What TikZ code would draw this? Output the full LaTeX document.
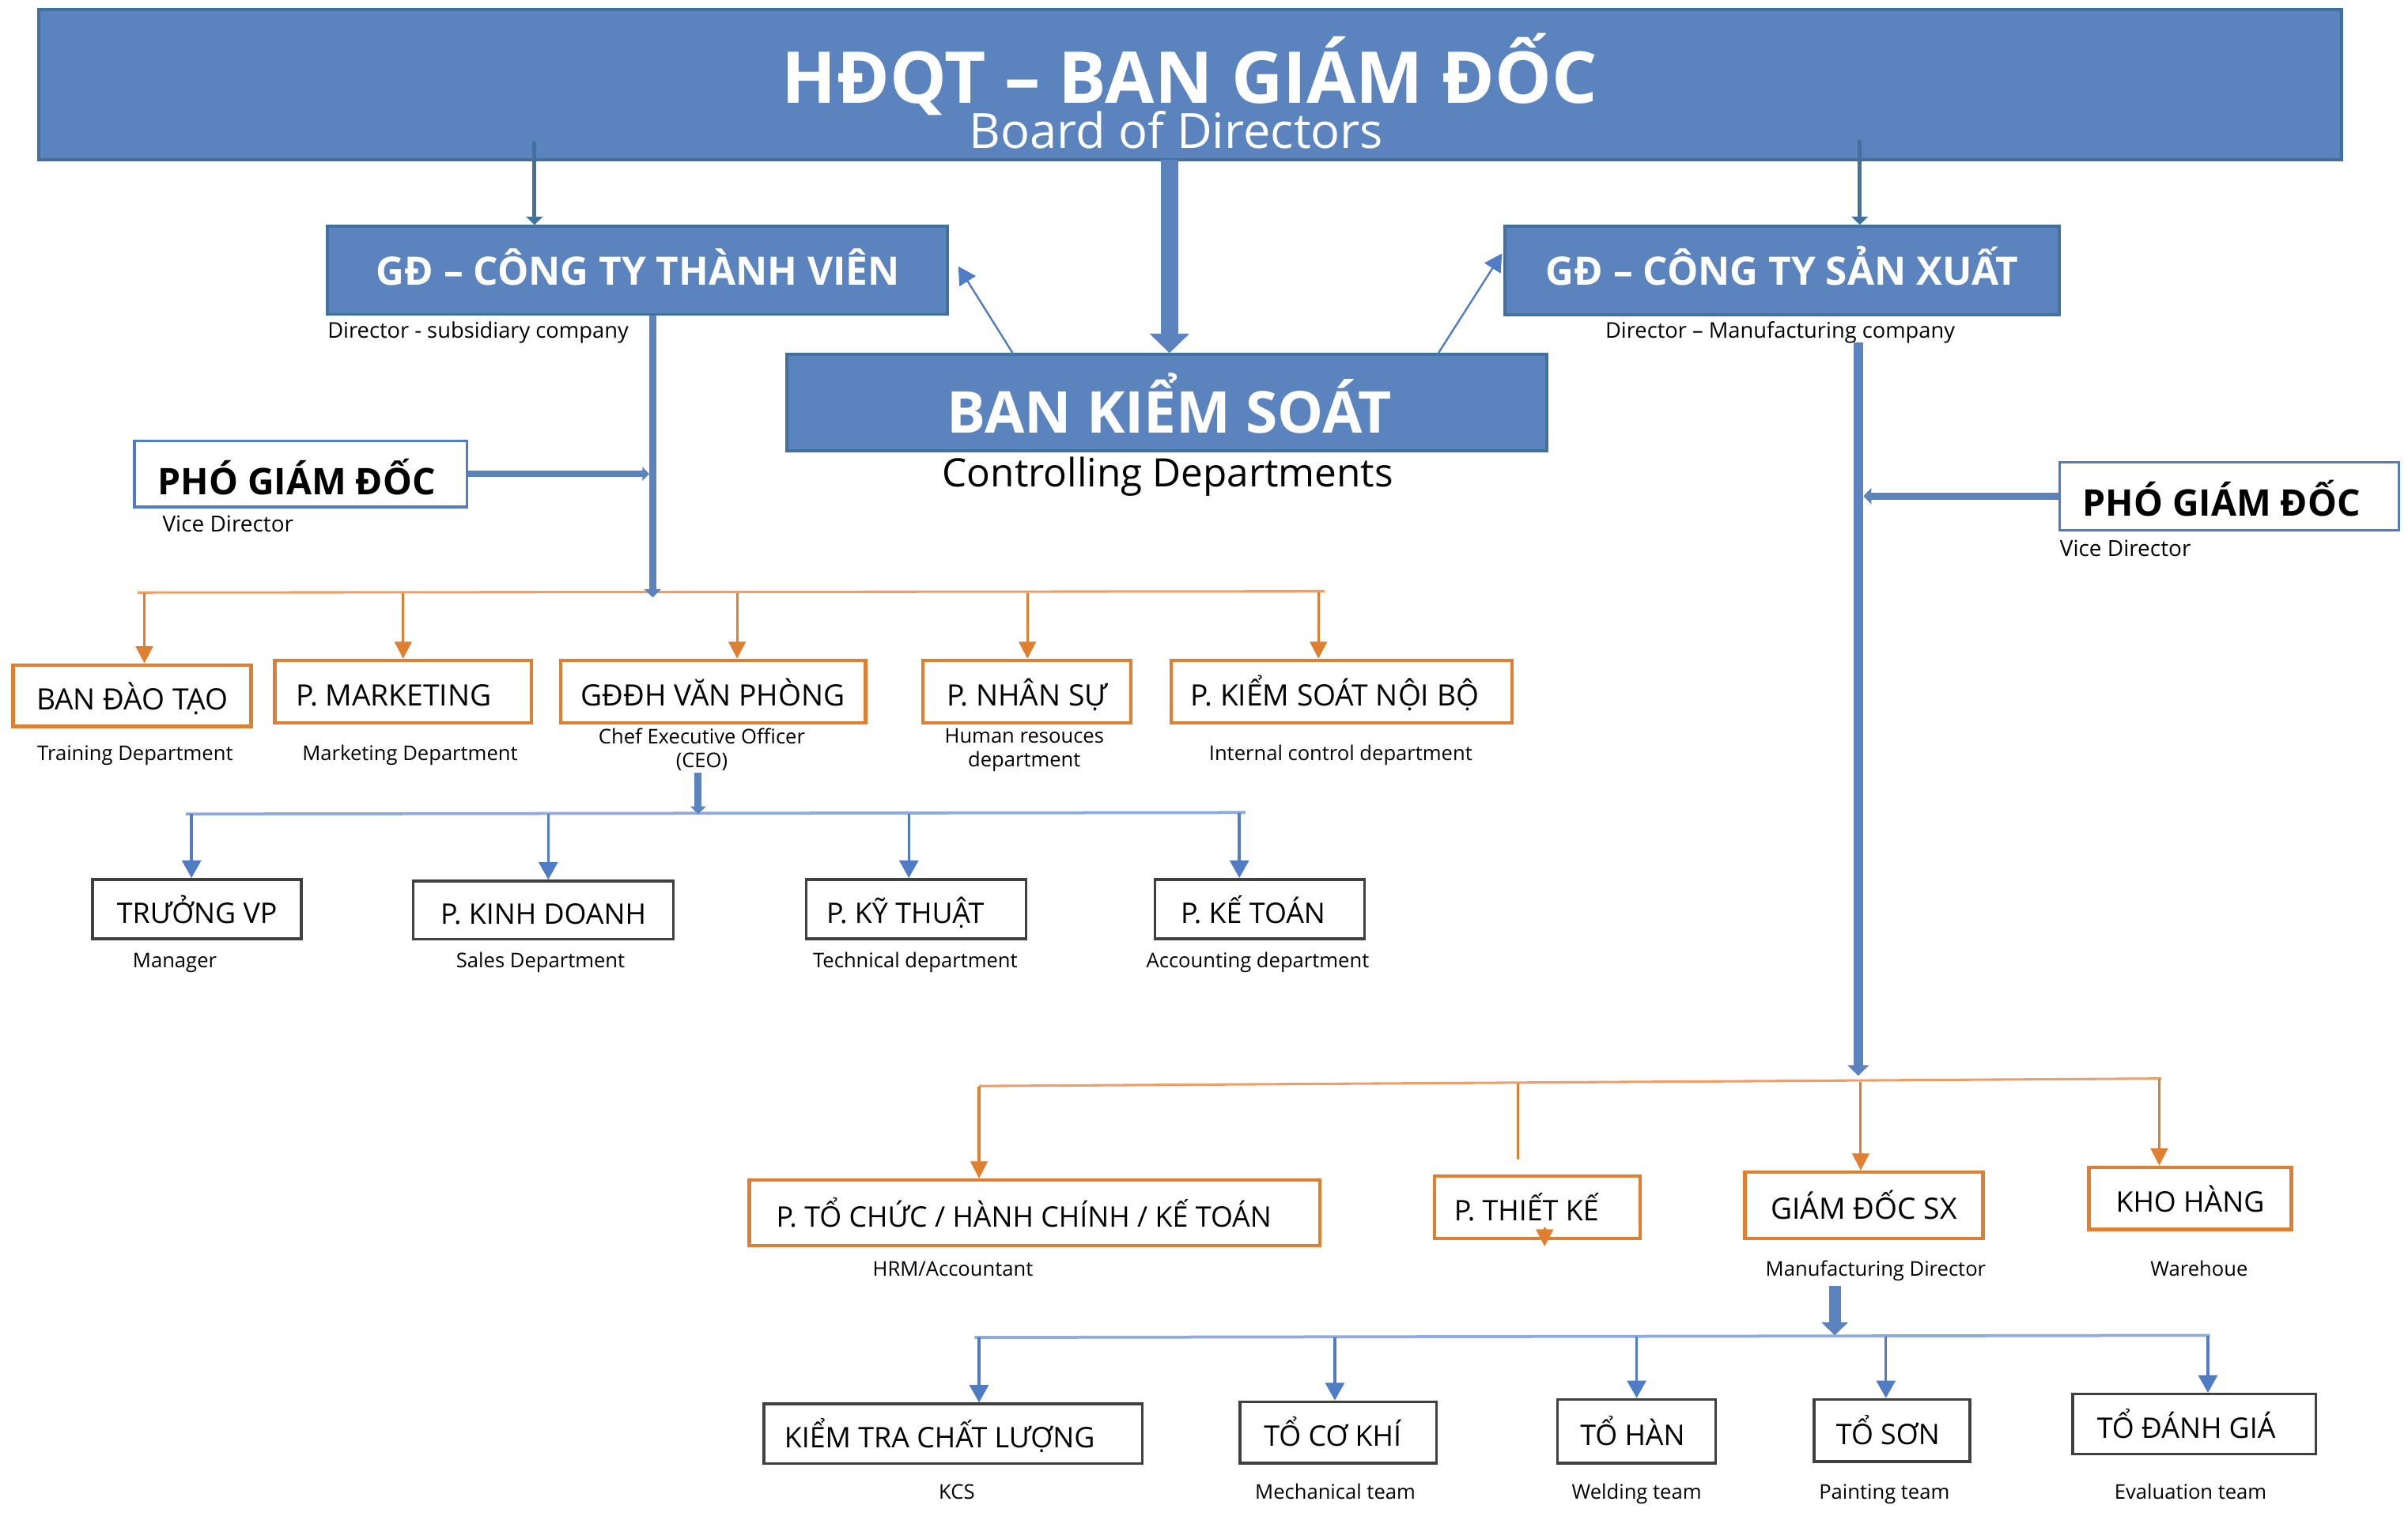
\documentclass[tikz,border=0pt]{standalone}
\usepackage{fontspec}
\setmainfont{Open Sans}
\usetikzlibrary{arrows.meta}

\definecolor{bfill}{RGB}{91,132,190}
\definecolor{bline}{RGB}{65,113,156}
\definecolor{barrow}{RGB}{79,124,196}
\definecolor{bbus}{RGB}{143,170,220}
\definecolor{orng}{RGB}{222,127,50}
\definecolor{obus}{RGB}{236,160,105}
\definecolor{gline}{RGB}{64,64,64}

\begin{document}
\begin{tikzpicture}[x=0.02cm, y=-0.02cm,
    bluebox/.style={draw=bline, line width=1.1pt, fill=bfill, inner sep=0pt},
    wtitle/.style={text=white, anchor=base, inner sep=0pt},
    pgdbox/.style={draw=barrow, line width=1pt, fill=white, inner sep=0pt},
    obox/.style={draw=orng, line width=1.3pt, fill=white, inner sep=0pt,
      font=\fontsize{10.5}{12}\selectfont, text height=10.3pt, text depth=0pt},
    obox1/.style={obox, font=\fontsize{10.9}{12}\selectfont, text height=10.6pt},
    kbox/.style={draw=gline, line width=1pt, fill=white, inner sep=0pt,
      font=\fontsize{10.5}{12}\selectfont, text height=10.3pt, text depth=0pt},
    capt/.style={anchor=base, inner sep=0pt, font=\fontsize{7.5}{9}\selectfont},
    capt2/.style={anchor=north, align=center, inner sep=0pt, font=\fontsize{7.5}{8.8}\selectfont},
    obus/.style={draw=obus, line width=0.9pt},
    bbus/.style={draw=bbus, line width=1.1pt},
    oline/.style={draw=orng, line width=0.9pt},
    oarrow/.style={draw=orng, fill=orng, line width=0.9pt, -{Triangle[width=6.3pt,length=6.3pt]}},
    barr/.style={draw=barrow, fill=barrow, line width=1pt, -{Triangle[width=7pt,length=6.5pt]}},
    darr/.style={draw=bline, fill=bline, line width=1.4pt, -{Triangle[width=6pt,length=3pt]}},
    fat/.style={draw=bfill, fill=bfill, line width=#1, -{Triangle[length=0pt 1.1,width=0pt 2.2]}}]

    \useasboundingbox (0,0) rectangle (1568,994.4);

    % 上段
    \node[bluebox, minimum width=30cm, minimum height=1.964cm] (hdqt) at (775,55.1) {};
    \node[wtitle, align=center, font={\fontsize{18}{16.6}\selectfont\lineskiplimit=-100pt}]
      (hdqtT) at (766,96.3) {{\fontsize{26.5}{30}\selectfont\bfseries\kern10pt HĐQT – BAN GIÁM ĐỐC}\\Board of Directors};

    \node[bluebox, minimum width=8.08cm, minimum height=1.146cm] (gdtv) at (415,176) {};
    \node[wtitle, font=\fontsize{14.5}{17}\selectfont\bfseries] (gdtvT) at (415.5,185.4) {GĐ – CÔNG TY THÀNH VIÊN};
    \node[capt, anchor=base west, font=\fontsize{8}{10}\selectfont] (gdtvC) at (213,220) {Director - subsidiary company};

    \node[bluebox, minimum width=7.22cm, minimum height=1.156cm] (gdsx) at (1160.5,176.2) {};
    \node[wtitle, font=\fontsize{14.5}{17}\selectfont\bfseries] (gdsxT) at (1160.5,185.5) {GĐ – CÔNG TY SẢN XUẤT};
    \node[capt, anchor=base west, font=\fontsize{8}{10}\selectfont] (gdsxC) at (1045,220) {Director – Manufacturing company};

    \node[bluebox, minimum width=9.9cm, minimum height=1.256cm] (bks) at (759.9,262.2) {};
    \node[wtitle, font=\fontsize{21.4}{25}\selectfont\bfseries] (bksT) at (761.5,282) {BAN KIỂM SOÁT};
    \node[capt, font=\fontsize{14.5}{17}\selectfont] (bksC) at (760.5,317) {Controlling Departments};

    \node[pgdbox, minimum width=4.33cm, minimum height=0.86cm] (pgdL) at (195.7,308.5) {};
    \node[anchor=base, inner sep=0pt, font=\fontsize{13.6}{15}\selectfont\bfseries] (pgdLT) at (193.2,322) {PHÓ GIÁM ĐỐC};
    \node[capt, anchor=base west, font=\fontsize{8.2}{10}\selectfont] (pgdLC) at (105.5,346.4) {Vice Director};

    \node[pgdbox, minimum width=4.42cm, minimum height=0.886cm] (pgdR) at (1451.5,323) {};
    \node[anchor=base, inner sep=0pt, font=\fontsize{13.6}{15}\selectfont\bfseries] (pgdRT) at (1446.5,336) {PHÓ GIÁM ĐỐC};
    \node[capt, anchor=base west, font=\fontsize{8.2}{10}\selectfont] (pgdRC) at (1341,362) {Vice Director};

    % 左側の部署
    \node[obox1, minimum width=3.10cm, minimum height=0.80cm] (daotao) at (86,453) {BAN ĐÀO TẠO};
    \node[obox1, minimum width=3.34cm, minimum height=0.812cm] (mkt) at (262.5,450.3) {P. MARKETING\kern7pt};
    \node[obox1, minimum width=3.97cm, minimum height=0.812cm] (vanphong) at (464.3,450.3) {GĐĐH VĂN PHÒNG};
    \node[obox1, minimum width=2.71cm, minimum height=0.812cm] (nhansu) at (668.7,450.3) {P. NHÂN SỰ};
    \node[obox1, minimum width=4.44cm, minimum height=0.812cm] (ksnb) at (873.6,450.3) {P. KIỂM SOÁT NỘI BỘ\kern5pt};

    \node[capt] (daotaoC) at (88,495) {Training Department};
    \node[capt] (mktC) at (267,495) {Marketing Department};
    \node[capt2] (vanphongC) at (457,474) {Chef Executive Officer\\(CEO)};
    \node[capt2] (nhansuC) at (667,474) {Human resouces\\department};
    \node[capt] (ksnbC) at (873,495) {Internal control department};

    \node[kbox, minimum width=2.72cm, minimum height=0.776cm] (truongvp) at (128.3,591.9) {TRƯỞNG VP};
    \node[kbox, minimum width=3.39cm, minimum height=0.756cm] (kinhdoanh) at (353.8,592.5) {P. KINH DOANH};
    \node[kbox, minimum width=2.86cm, minimum height=0.776cm] (kythuat) at (596.5,591.9) {P. KỸ THUẬT\kern8pt};
    \node[kbox, minimum width=2.73cm, minimum height=0.776cm] (ketoan) at (820.3,591.9) {P. KẾ TOÁN\kern5pt};

    \node[capt] (truongvpC) at (113.8,630) {Manager};
    \node[capt] (kinhdoanhC) at (352,630) {Sales Department};
    \node[capt] (kythuatC) at (596,630) {Technical department};
    \node[capt] (ketoanC) at (819,630) {Accounting department};

    % 右側の部署
    \node[obox, minimum width=7.43cm, minimum height=0.854cm] (tochuc) at (673.7,789.7) {P. TỔ CHỨC / HÀNH CHÍNH / KẾ TOÁN\kern8pt};
    \node[obox, minimum width=2.68cm, minimum height=0.81cm] (thietke) at (1001,786) {P. THIẾT KẾ\kern8pt};
    \node[obox1, minimum width=3.10cm, minimum height=0.862cm] (gdsxB) at (1213.7,784.7) {GIÁM ĐỐC SX};
    \node[obox, minimum width=2.64cm, minimum height=0.81cm] (khohang) at (1426.1,780.2) {KHO HÀNG};

    \node[capt] (tochucC) at (620.5,831) {HRM/Accountant};
    \node[capt] (gdsxBC) at (1221.4,831) {Manufacturing Director};
    \node[capt] (khohangC) at (1432,831) {Warehoue};

    \node[kbox, minimum width=4.93cm, minimum height=0.78cm] (kcs) at (620.6,933.5) {KIỂM TRA CHẤT LƯỢNG\kern10pt};
    \node[kbox, minimum width=2.56cm, minimum height=0.80cm] (cokhi) at (871.3,932.6) {TỔ CƠ KHÍ\kern4pt};
    \node[kbox, minimum width=2.06cm, minimum height=0.83cm] (han) at (1065.7,931.9) {TỔ HÀN\kern3pt};
    \node[kbox, minimum width=2.03cm, minimum height=0.81cm] (son) at (1232,931.4) {TỔ SƠN\kern3pt};
    \node[kbox, minimum width=3.17cm, minimum height=0.78cm] (danhgia) at (1428.9,927.2) {TỔ ĐÁNH GIÁ\kern6pt};

    \node[capt] (kcsC) at (623,976) {KCS};
    \node[capt] (cokhiC) at (869.5,976) {Mechanical team};
    \node[capt] (hanC) at (1065.7,976) {Welding team};
    \node[capt] (sonC) at (1227,976) {Painting team};
    \node[capt] (danhgiaC) at (1426.4,976) {Evaluation team};

    % 座標
    \coordinate (a1) at (348,92);
    \coordinate (a2) at (1211,91);
    \coordinate (a3) at (761.5,104);
    \coordinate (d1) at (660,230.8);
    \coordinate (d1e) at (624,173.4);
    \coordinate (d2) at (936,230.8);
    \coordinate (d2e) at (978,165);
    \coordinate (v1) at (425,389);
    \coordinate (v2t) at (1210,223);
    \coordinate (v2) at (1210,700.4);
    \coordinate (c1) at (454.6,503);
    \coordinate (c1e) at (454.6,530);
    \coordinate (c2) at (1194.7,837.3);
    \coordinate (c2e) at (1194.7,869.4);
    \coordinate (o1L) at (89.7,385.8);
    \coordinate (o1R) at (862.5,385);
    \coordinate (t1) at (94,386);
    \coordinate (t2) at (262.5,386);
    \coordinate (t3) at (480,386);
    \coordinate (t4) at (669,386);
    \coordinate (t5) at (858.5,385.5);
    \coordinate (b1L) at (121,530);
    \coordinate (b1R) at (811,529);
    \coordinate (s1) at (124.7,530);
    \coordinate (s2) at (357,530);
    \coordinate (s3) at (591.8,530);
    \coordinate (s4) at (807,529.5);
    \coordinate (o2L) at (637.5,707.1);
    \coordinate (o2R) at (1407.3,702.2);
    \coordinate (u1) at (637.5,707.5);
    \coordinate (u2) at (988.2,705.3);
    \coordinate (u2e) at (988.2,755);
    \coordinate (u3) at (1211.6,704.2);
    \coordinate (u4) at (1406,702.5);
    \coordinate (tkA) at (1005.8,799);
    \coordinate (tkB) at (1005.8,811.5);
    \coordinate (b2L) at (634.6,870.8);
    \coordinate (b2R) at (1439,869.4);
    \coordinate (w1) at (637.5,871);
    \coordinate (w2) at (869.2,870.5);
    \coordinate (w3) at (1065.7,870.3);
    \coordinate (w4) at (1228,870);
    \coordinate (w5) at (1437.7,869.8);

    % 線を引く
    \draw[obus] (o1L) -- (o1R);
    \draw[bbus] (b1L) -- (b1R);
    \draw[obus] (o2L) -- (o2R);
    \draw[bbus] (b2L) -- (b2R);

    \draw[darr] (a1) -- (a1 |- gdtv.north);
    \draw[darr] (a2) -- (a2 |- gdsx.north);
    \draw[fat=6.5pt] (a3) -- (a3 |- bks.north);
    \draw[barr, line width=0.7pt] (d1) -- (d1e);
    \draw[barr, line width=0.7pt] (d2) -- (d2e);

    \draw[fat=2.8pt] (v1 |- gdtv.south) -- (v1);
    \draw[fat=2.3pt, shorten >=1.3pt] (pgdL.east) -- (pgdL.east -| v1);
    \draw[fat=3.5pt] (v2t) -- (v2);
    \draw[fat=2.7pt, shorten >=1.9pt] (pgdR.west) -- (pgdR.west -| v2);

    \draw[oarrow] (t1) -- (t1 |- daotao.north);
    \draw[oarrow] (t2) -- (t2 |- mkt.north);
    \draw[oarrow] (t3) -- (t3 |- vanphong.north);
    \draw[oarrow] (t4) -- (t4 |- nhansu.north);
    \draw[oarrow] (t5) -- (t5 |- ksnb.north);

    \draw[fat=2.6pt] (c1) -- (c1e);
    \draw[barr] (s1) -- (s1 |- truongvp.north);
    \draw[barr] (s2) -- (s2 |- kinhdoanh.north);
    \draw[barr] (s3) -- (s3 |- kythuat.north);
    \draw[barr] (s4) -- (s4 |- ketoan.north);

    \draw[oarrow] (u1) -- (u1 |- tochuc.north);
    \draw[oline] (u2) -- (u2e);
    \draw[oarrow] (u3) -- (u3 |- gdsxB.north);
    \draw[oarrow] (u4) -- (u4 |- khohang.north);
    \draw[oarrow] (tkA) -- (tkB);

    \draw[fat=4.4pt] (c2) -- (c2e);
    \draw[barr] (w1) -- (w1 |- kcs.north);
    \draw[barr] (w2) -- (w2 |- cokhi.north);
    \draw[barr] (w3) -- (w3 |- han.north);
    \draw[barr] (w4) -- (w4 |- son.north);
    \draw[barr] (w5) -- (w5 |- danhgia.north);
\end{tikzpicture}
\end{document}
